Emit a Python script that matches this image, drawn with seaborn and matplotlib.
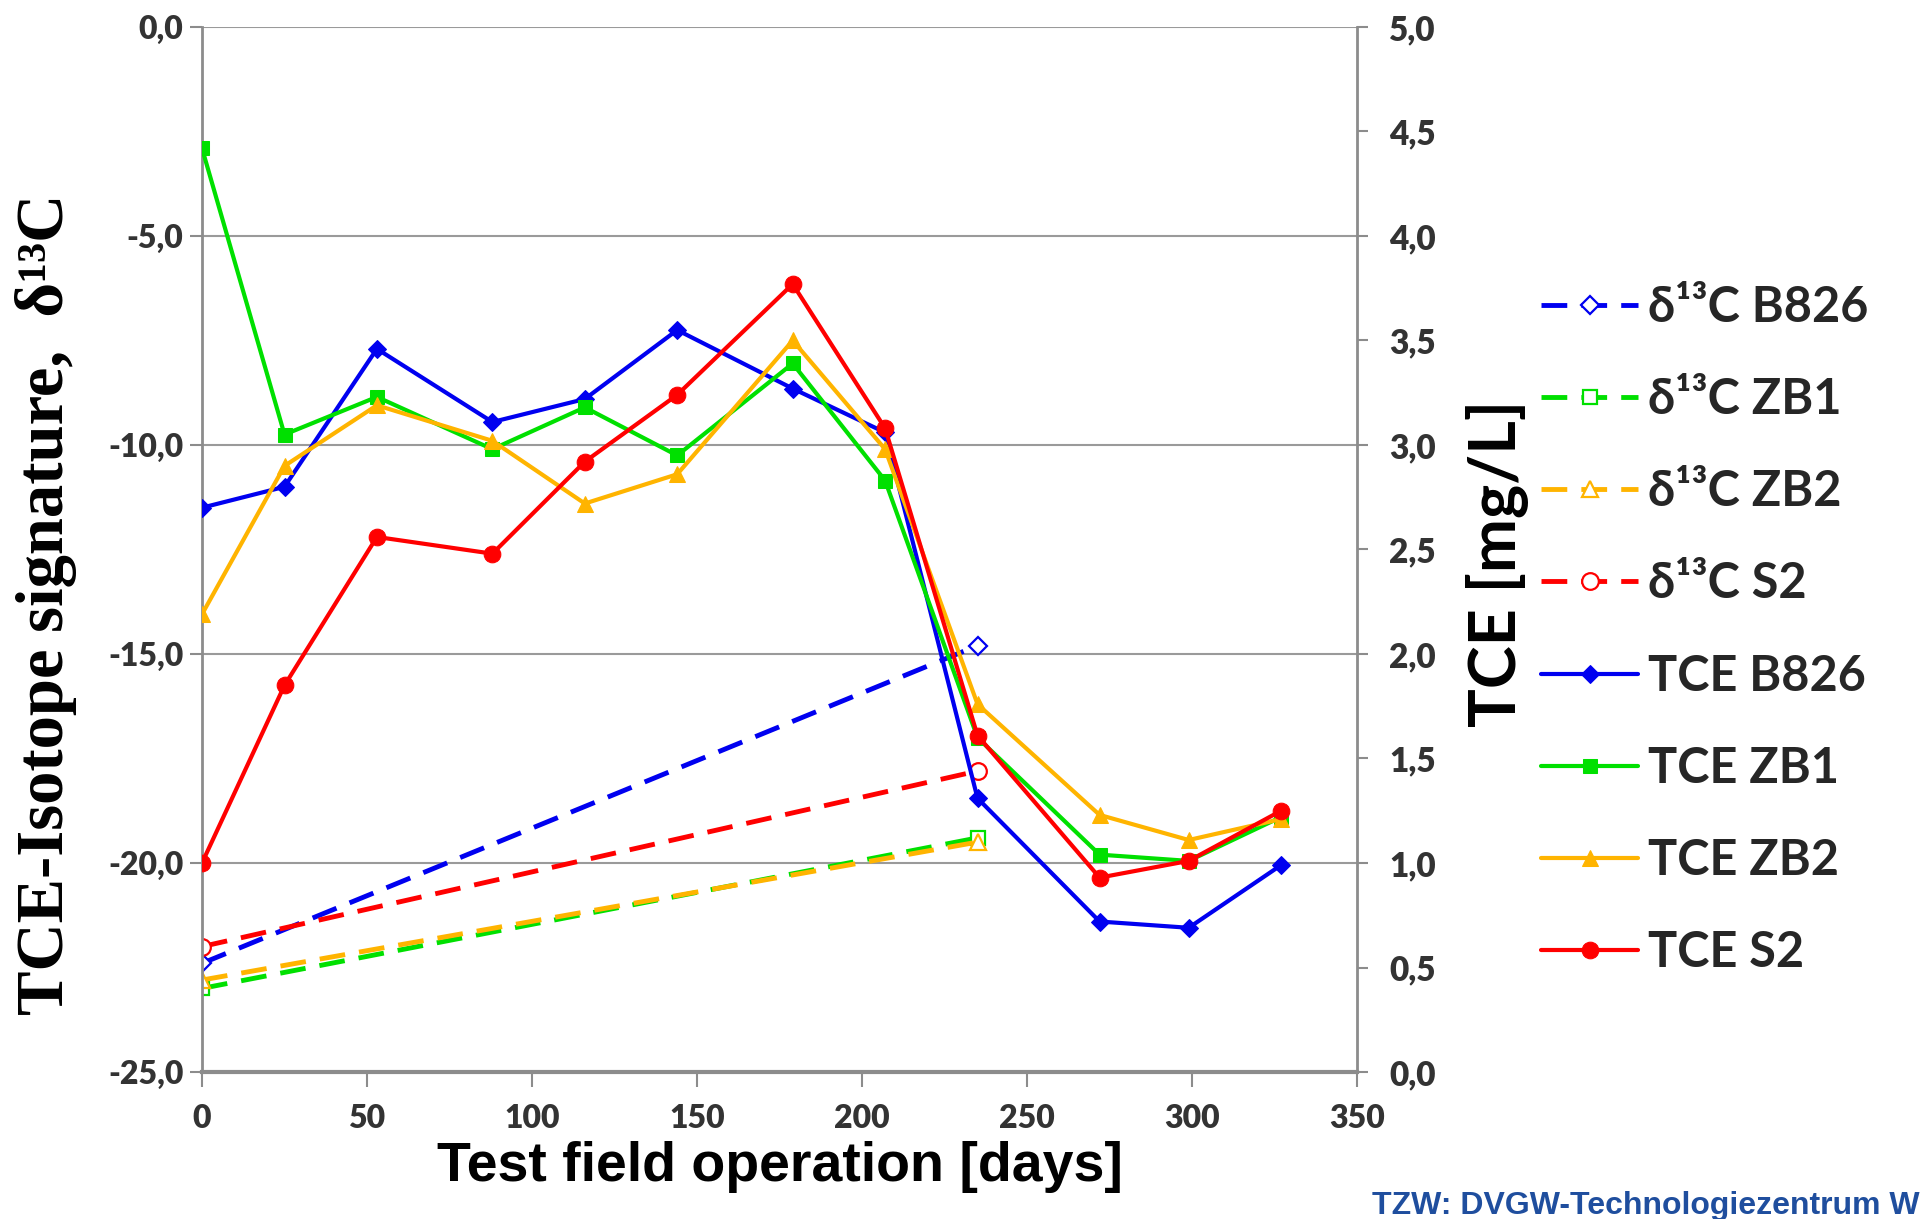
import matplotlib
matplotlib.use("Agg")
import matplotlib.pyplot as plt
import seaborn as sns
import pandas as pd
from matplotlib.ticker import FuncFormatter, MultipleLocator

# ---- data ----
days = [0, 25, 53, 88, 116, 144, 179, 207, 235, 272, 299, 327]
tce_b826 = [2.70, 2.80, 3.46, 3.11, 3.22, 3.55, 3.27, 3.06, 1.31, 0.72, 0.69, 0.99]
tce_zb1 = [4.42, 3.05, 3.23, 2.98, 3.18, 2.95, 3.39, 2.83, 1.60, 1.04, 1.01, 1.22]
tce_zb2 = [2.19, 2.90, 3.19, 3.02, 2.72, 2.86, 3.50, 2.98, 1.76, 1.23, 1.11, 1.21]
tce_s2 = [1.00, 1.85, 2.56, 2.48, 2.92, 3.24, 3.77, 3.08, 1.61, 0.93, 1.01, 1.25]

iso_days = [0, 235]
iso_b826 = [-22.4, -14.8]
iso_zb1 = [-23.0, -19.4]
iso_zb2 = [-22.8, -19.5]
iso_s2 = [-22.0, -17.8]

wells = ["B826", "ZB1", "ZB2", "S2"]
colors = {"B826": "#0000F0", "ZB1": "#00E000", "ZB2": "#FFB400", "S2": "#FF0000"}
markers = {"B826": "D", "ZB1": "s", "ZB2": "^", "S2": "o"}
msize = {"B826": 9, "ZB1": 10, "ZB2": 11, "S2": 12}

sns.set_theme(style="white")
plt.rcParams["font.family"] = ["Lato", "DejaVu Sans"]

W, H = 1921, 1219
fig = plt.figure(figsize=(W / 100, H / 100), dpi=100)
L, R, T, B = 202, 1357, 27, 1072
ax = fig.add_axes([L / W, 1 - B / H, (R - L) / W, (B - T) / H])
ax2 = ax.twinx()

iso_series = {"B826": iso_b826, "ZB1": iso_zb1, "ZB2": iso_zb2, "S2": iso_s2}
tce_series = {"B826": tce_b826, "ZB1": tce_zb1, "ZB2": tce_zb2, "S2": tce_s2}

for w in wells:
    df = pd.DataFrame({"day": iso_days, "val": iso_series[w]})
    sns.lineplot(data=df, x="day", y="val", ax=ax, color=colors[w],
                 linewidth=3.5, linestyle=(0, (5.3, 2.9)),
                 marker=markers[w], markersize=msize[w],
                 markerfacecolor="white", markeredgecolor=colors[w],
                 markeredgewidth=1.6, label="δ¹³C " + w, legend=False)

for w in wells:
    df = pd.DataFrame({"day": days, "val": tce_series[w]})
    sns.lineplot(data=df, x="day", y="val", ax=ax2, color=colors[w],
                 linewidth=3.0, marker=markers[w], markersize=msize[w],
                 markerfacecolor=colors[w], markeredgecolor=colors[w],
                 label="TCE " + w, legend=False)

for a in (ax, ax2):
    if a.get_legend() is not None:
        a.get_legend().remove()

ax.set_xlim(0, 350)
ax.set_ylim(-25, 0)
ax2.set_ylim(0, 5)
ax.xaxis.set_major_locator(MultipleLocator(50))
ax.yaxis.set_major_locator(MultipleLocator(5))
ax2.yaxis.set_major_locator(MultipleLocator(0.5))

comma = FuncFormatter(lambda v, p: f"{v:.1f}".replace(".", ","))
ax.yaxis.set_major_formatter(comma)
ax2.yaxis.set_major_formatter(comma)
ax.xaxis.set_major_formatter(FuncFormatter(lambda v, p: f"{int(round(v))}"))

gray = "#8c8c8c"
ax.grid(axis="y", color="#9a9a9a", linewidth=1.5)
ax.grid(axis="x", visible=False)
ax2.grid(False)
ax.set_axisbelow(True)

for s in ["top", "right"]:
    ax.spines[s].set_visible(False)
for s in ["top", "left", "bottom"]:
    ax2.spines[s].set_visible(False)
ax.spines["left"].set_color(gray)
ax.spines["left"].set_linewidth(2.0)
ax.spines["bottom"].set_color(gray)
ax.spines["bottom"].set_linewidth(3.0)
ax2.spines["right"].set_color(gray)
ax2.spines["right"].set_linewidth(2.0)

lab_col = "#333333"
ax.tick_params(axis="y", which="major", direction="out", length=8.5,
               width=1.5, color=gray, labelsize=23, labelcolor=lab_col,
               left=True, pad=5)
ax.tick_params(axis="x", which="major", direction="out", length=11,
               width=1.5, color=gray, labelsize=23, labelcolor=lab_col,
               bottom=True, pad=12)
ax2.tick_params(axis="y", direction="out", length=8, width=1.5, color=gray,
                labelsize=24, labelcolor=lab_col, right=True, pad=15)
for lab in ax.get_xticklabels() + ax.get_yticklabels() + ax2.get_yticklabels():
    lab.set_fontweight("heavy")

ax.set_xlabel("Test field operation [days]", fontsize=40, fontweight="bold",
              family=["Liberation Sans", "DejaVu Sans"], color="black", va="top")
ax.xaxis.set_label_coords(0.5, -0.066)

ax.set_ylabel("TCE-Isotope signature,  δ¹³C", fontsize=48, fontweight="bold",
              family=["Liberation Serif", "DejaVu Serif"], color="black",
              va="center", ha="center")
ax.yaxis.set_label_coords((46 - L) / (R - L), (B - 604) / (B - T))

ax2.set_ylabel("TCE [mg/L]", fontsize=46.5, fontweight="bold", color="black",
               va="center", ha="center", rotation=90)
ax2.yaxis.set_label_coords((1497 - L) / (R - L), (B - 563) / (B - T))

h1, l1 = ax.get_legend_handles_labels()
h2, l2 = ax2.get_legend_handles_labels()
fig.legend(h1 + h2, l1 + l2, loc="upper left",
           bbox_to_anchor=(1541 / W, 1 - 285 / H), frameon=False,
           prop={"family": ["Lato", "DejaVu Sans"], "weight": "bold", "size": 35},
           handlelength=2.0, handletextpad=0.2, labelspacing=0.97,
           borderpad=0, borderaxespad=0)

fig.text(1372 / W, 5 / H, "TZW: DVGW-Technologiezentrum W",
         fontsize=23, fontweight="bold", color="#1f4e9e",
         family=["Liberation Sans", "DejaVu Sans"], ha="left", va="baseline")

fig.savefig("out.png", dpi=100, facecolor="white")
